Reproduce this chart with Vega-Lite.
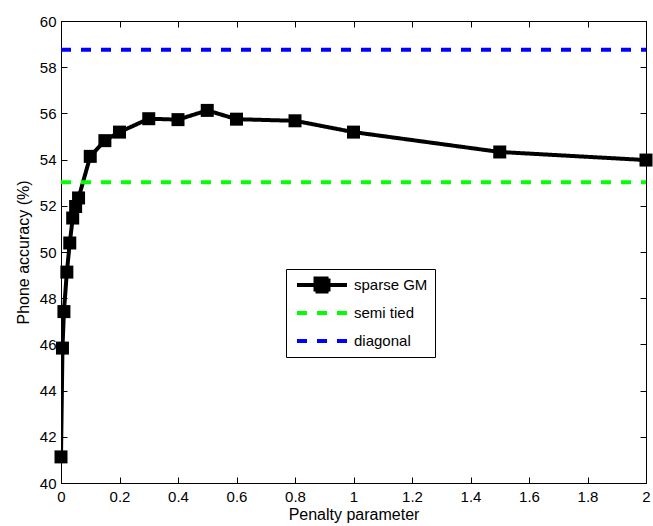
{
  "$schema": "https://vega.github.io/schema/vega-lite/v6.json",
  "width": 585,
  "height": 462,
  "autosize": "none",
  "padding": {"left": 61, "top": 21, "right": 7, "bottom": 43},
  "background": "white",
  "config": {
    "font": "Liberation Sans",
    "view": {"stroke": "black", "strokeWidth": 1},
    "axis": {
      "grid": false,
      "domainColor": "black",
      "tickColor": "black",
      "labelColor": "black",
      "titleColor": "black",
      "labelFontSize": 15,
      "titleFontSize": 16,
      "titleFontWeight": "normal",
      "tickSize": -6,
      "labelPadding": 10,
      "labelFlush": false
    }
  },
  "data": {
    "values": [
      {"x": 0, "y": 41.13, "series": "sparse GM"},
      {"x": 0.005, "y": 45.84, "series": "sparse GM"},
      {"x": 0.01, "y": 47.42, "series": "sparse GM"},
      {"x": 0.02, "y": 49.13, "series": "sparse GM"},
      {"x": 0.03, "y": 50.39, "series": "sparse GM"},
      {"x": 0.04, "y": 51.47, "series": "sparse GM"},
      {"x": 0.05, "y": 51.97, "series": "sparse GM"},
      {"x": 0.06, "y": 52.34, "series": "sparse GM"},
      {"x": 0.1, "y": 54.14, "series": "sparse GM"},
      {"x": 0.15, "y": 54.82, "series": "sparse GM"},
      {"x": 0.2, "y": 55.19, "series": "sparse GM"},
      {"x": 0.3, "y": 55.77, "series": "sparse GM"},
      {"x": 0.4, "y": 55.73, "series": "sparse GM"},
      {"x": 0.5, "y": 56.13, "series": "sparse GM"},
      {"x": 0.6, "y": 55.75, "series": "sparse GM"},
      {"x": 0.8, "y": 55.68, "series": "sparse GM"},
      {"x": 1.0, "y": 55.19, "series": "sparse GM"},
      {"x": 1.5, "y": 54.33, "series": "sparse GM"},
      {"x": 2.0, "y": 53.98, "series": "sparse GM"},
      {"x": 0, "y": 53.02, "series": "semi tied"},
      {"x": 2, "y": 53.02, "series": "semi tied"},
      {"x": 0, "y": 58.76, "series": "diagonal"},
      {"x": 2, "y": 58.76, "series": "diagonal"}
    ]
  },
  "layer": [
    {
      "mark": {"type": "line", "strokeWidth": 4, "clip": true},
      "encoding": {
        "x": {
          "field": "x", "type": "quantitative",
          "scale": {"domain": [0, 2], "nice": false, "zero": false},
          "axis": {"values": [0, 0.2, 0.4, 0.6, 0.8, 1, 1.2, 1.4, 1.6, 1.8, 2], "format": "~g", "title": "Penalty parameter", "titlePadding": 2, "labelPadding": 12}
        },
        "y": {
          "field": "y", "type": "quantitative",
          "scale": {"domain": [40, 60], "nice": false, "zero": false},
          "axis": {"values": [40, 42, 44, 46, 48, 50, 52, 54, 56, 58, 60], "title": "Phone accuracy (%)", "titlePadding": 8, "labelPadding": 11}
        },
        "color": {
          "field": "series", "type": "nominal",
          "scale": {"domain": ["sparse GM", "semi tied", "diagonal"], "range": ["black", "#00ff00", "#0000ff"]},
          "legend": {
            "title": null,
            "orient": "none",
            "legendX": 225,
            "legendY": 248,
            "strokeColor": "black",
            "fillColor": "white",
            "padding": 7,
            "rowPadding": 10,
            "clipHeight": 18,
            "labelFontSize": 15,
            "labelColor": "black",
            "labelOffset": 41,
            "symbolSize": 256,
            "symbolStrokeWidth": 4,
            "symbolType": "stroke",
            "encode": {
              "symbols": {
                "update": {
                  "shape": {"signal": "datum.value === 'sparse GM' ? 'M-0.75,0H5.5M1.5625,-0.8125H3.1875V0.8125H1.5625Z' : 'M-0.75,0H5.5'"},
                  "fill": {"value": "black"},
                  "fillOpacity": {"value": 1}
                }
              },
              "legend": {"update": {"strokeWidth": {"value": 1}}}
            }
          }
        },
        "strokeDash": {
          "field": "series", "type": "nominal",
          "scale": {"domain": ["sparse GM", "semi tied", "diagonal"], "range": [[1, 0], [10, 10], [10, 10]]},
          "legend": {
            "title": null,
            "orient": "none",
            "legendX": 225,
            "legendY": 248
          }
        }
      }
    },
    {
      "transform": [{"filter": "datum.series === 'sparse GM'"}],
      "mark": {"type": "point", "shape": "square", "filled": true, "color": "black", "size": 169, "opacity": 1},
      "encoding": {
        "x": {
          "field": "x", "type": "quantitative",
          "axis": {"orient": "top", "values": [0, 0.2, 0.4, 0.6, 0.8, 1, 1.2, 1.4, 1.6, 1.8, 2], "labels": false, "title": null}
        },
        "y": {
          "field": "y", "type": "quantitative",
          "axis": {"orient": "right", "values": [40, 42, 44, 46, 48, 50, 52, 54, 56, 58, 60], "labels": false, "title": null}
        }
      }
    }
  ],
  "resolve": {"axis": {"x": "independent", "y": "independent"}}
}
